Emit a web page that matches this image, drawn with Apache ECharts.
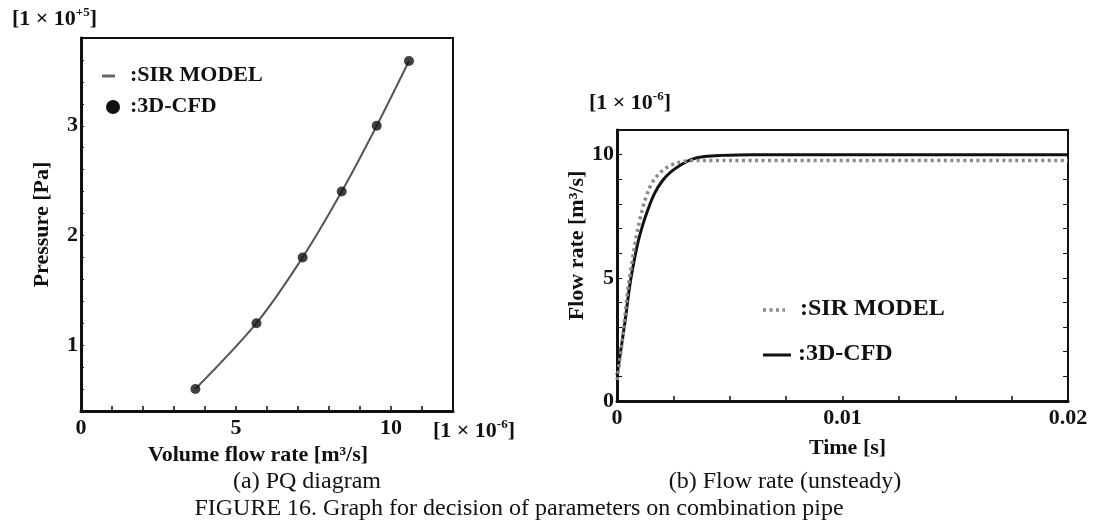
<!DOCTYPE html>
<html>
<head>
<meta charset="utf-8">
<script src="https://cdn.jsdelivr.net/npm/echarts@6/dist/echarts.min.js"></script>
<style>
html,body{margin:0;padding:0;background:#fff;}
#chart{width:1094px;height:522px;}
</style>
</head>
<body>
<div id="chart"></div>
<script>
// ---- (a) PQ diagram ----
const pqCfdFlow = [3.69, 5.66, 7.15, 8.41, 9.54, 10.58];      // x 1e-6 m3/s
const pqCfdPressure = [0.6, 1.2, 1.8, 2.4, 3.0, 3.59];        // x 1e5 Pa
const pqSirFlow = [3.69, 5.66, 7.15, 8.41, 9.54, 10.58];
const pqSirPressure = [0.6, 1.2, 1.8, 2.4, 3.0, 3.59];
const pqXTicks = [0, 5, 10];
const pqYTicks = [1, 2, 3];

// ---- (b) Flow rate (unsteady) ----
const cfdTime = [0, 0.000355, 0.000547, 0.000695, 0.000916, 0.00114, 0.00136, 0.00166, 0.00203, 0.00239, 0.00284, 0.00328, 0.00387, 0.00461, 0.006, 0.02];
const cfdFlow = [1.05, 3.22, 4.57, 5.38, 6.39, 7.14, 7.74, 8.42, 8.96, 9.30, 9.59, 9.80, 9.92, 9.97, 10.0, 10.0];
const sirTime = [0, 0.00025, 0.00047, 0.00062, 0.00084, 0.00106, 0.00129, 0.00158, 0.00195, 0.00239, 0.00299, 0.00358, 0.02];
const sirFlow = [0.85, 2.54, 4.43, 5.38, 6.59, 7.54, 8.28, 8.89, 9.30, 9.57, 9.73, 9.76, 9.76];
const tXTicks = ['0', '0.01', '0.02'];
const tYTicks = [0, 5, 10];

const F = "'Liberation Serif','Times New Roman',serif";
const zip = (a, b) => a.map((v, i) => [v, b[i]]);

const chart = echarts.init(document.getElementById('chart'), null, {renderer: 'canvas'});

const labelStyle = {fontFamily: F, fontWeight: 'bold', fontSize: 22, color: '#111'};
const nameStyle = {fontFamily: F, fontWeight: 'bold', fontSize: 22, color: '#111'};

function unitText(left, top, sup) {
  return {
    type: 'text', left: left, top: top,
    style: {
      text: '{a|[1 × 10}{s|' + sup + '}{a|]}',
      rich: {
        a: {fontFamily: F, fontWeight: 'bold', fontSize: 22, fill: '#111', lineHeight: 26},
        s: {fontFamily: F, fontWeight: 'bold', fontSize: 13, fill: '#111', verticalAlign: 'top', lineHeight: 26, padding: [0, 0, 10, 0]}
      }
    }
  };
}

const option = {
  backgroundColor: '#fff',
  animation: false,
  grid: [
    {left: 81, right: 641, top: 38, bottom: 111, show: true, borderColor: '#111', borderWidth: 2, containLabel: false},
    {left: 617, right: 26, top: 130, bottom: 121, show: true, borderColor: '#111', borderWidth: 2, containLabel: false}
  ],
  xAxis: [
    {
      gridIndex: 0, type: 'value', min: 0, max: 12, interval: 1,
      axisLine: {lineStyle: {color: '#111', width: 3}},
      axisTick: {inside: true, length: 5, lineStyle: {color: '#111', width: 1.5}},
      splitLine: {show: false},
      axisLabel: {margin: 6, ...labelStyle, formatter: v => pqXTicks.includes(v) ? String(v) : ''},
      name: 'Volume flow rate [m³/s]', nameLocation: 'middle', nameGap: 30,
      nameTextStyle: {...nameStyle, padding: [0, 18, 0, 0]}
    },
    {
      gridIndex: 1, type: 'value', min: 0, max: 0.02, interval: 0.0025,
      axisLine: {lineStyle: {color: '#111', width: 3}},
      axisTick: {inside: true, length: 5, lineStyle: {color: '#111', width: 1.5}},
      splitLine: {show: false},
      axisLabel: {margin: 6, ...labelStyle, formatter: v => {
        const s = String(Math.round(v * 10000) / 10000);
        return tXTicks.includes(s) ? s : '';
      }},
      name: 'Time [s]', nameLocation: 'middle', nameGap: 36,
      nameTextStyle: {...nameStyle, padding: [0, 0, 0, 10]}
    }
  ],
  yAxis: [
    {
      gridIndex: 0, type: 'value', min: 0.4, max: 3.8, interval: 0.2,
      axisLine: {lineStyle: {color: '#111', width: 3}},
      axisTick: {inside: true, length: 3, lineStyle: {color: '#111', width: 1}},
      splitLine: {show: false},
      axisLabel: {margin: 3, ...labelStyle, formatter: v => {
        const r = Math.round(v);
        return (Math.abs(v - r) < 1e-6 && pqYTicks.includes(r)) ? String(r) : '';
      }},
      name: 'Pressure [Pa]', nameLocation: 'middle', nameGap: 28, nameRotate: 90,
      nameTextStyle: nameStyle
    },
    {
      gridIndex: 1, type: 'value', min: 0, max: 11, interval: 1,
      axisLine: {lineStyle: {color: '#111', width: 3}},
      axisTick: {inside: true, length: 5, lineStyle: {color: '#111', width: 1}},
      splitLine: {show: false},
      axisLabel: {margin: 3, ...labelStyle, formatter: v => tYTicks.includes(v) ? String(v) : ''},
      name: 'Flow rate [m³/s]', nameLocation: 'middle', nameGap: 22, nameRotate: 90,
      nameTextStyle: {...nameStyle, padding: [0, 0, 0, 40]}
    },
    {
      gridIndex: 1, type: 'value', min: 0, max: 11, interval: 1, position: 'right',
      axisLine: {lineStyle: {color: '#111', width: 2}},
      axisTick: {inside: true, length: 5, lineStyle: {color: '#111', width: 1}},
      splitLine: {show: false},
      axisLabel: {show: false}
    }
  ],
  series: [
    {
      name: ':SIR MODEL', type: 'line', xAxisIndex: 0, yAxisIndex: 0,
      data: zip(pqSirFlow, pqSirPressure), smooth: 0.3, showSymbol: false,
      lineStyle: {color: '#555', width: 2}, z: 2
    },
    {
      name: ':3D-CFD', type: 'scatter', xAxisIndex: 0, yAxisIndex: 0,
      data: zip(pqCfdFlow, pqCfdPressure), symbol: 'circle', symbolSize: 10,
      itemStyle: {color: '#111'}, z: 3
    },
    {
      name: ':3D-CFD ', type: 'line', xAxisIndex: 1, yAxisIndex: 1,
      data: zip(cfdTime, cfdFlow), smooth: 0.35, showSymbol: false,
      lineStyle: {color: '#111', width: 3}, z: 2
    },
    {
      name: ':SIR MODEL ', type: 'line', xAxisIndex: 1, yAxisIndex: 1,
      data: zip(sirTime, sirFlow), smooth: 0.35, showSymbol: false,
      lineStyle: {color: '#888', width: 3.5, type: [3, 3.5]}, z: 3
    }
  ],
  graphic: [
    unitText(12, 6, '+5'),
    unitText(433, 418, '-6'),
    unitText(589, 90, '-6'),
    // legend (a)
    {type: 'line', shape: {x1: 102, y1: 76, x2: 115, y2: 76}, style: {stroke: '#666', lineWidth: 3}},
    {type: 'text', left: 130, top: 64, style: {text: ':SIR MODEL', fontFamily: F, fontWeight: 'bold', fontSize: 22, fill: '#111'}},
    {type: 'circle', shape: {cx: 113, cy: 107, r: 7}, style: {fill: '#111'}},
    {type: 'text', left: 130, top: 95, style: {text: ':3D-CFD', fontFamily: F, fontWeight: 'bold', fontSize: 22, fill: '#111'}},
    // legend (b)
    {type: 'line', shape: {x1: 763, y1: 310, x2: 785, y2: 310}, style: {stroke: '#888', lineWidth: 3.5, lineDash: [3, 3.5]}},
    {type: 'text', left: 800, top: 297, style: {text: ':SIR MODEL', fontFamily: F, fontWeight: 'bold', fontSize: 24, fill: '#111'}},
    {type: 'line', shape: {x1: 763, y1: 355, x2: 791, y2: 355}, style: {stroke: '#111', lineWidth: 3}},
    {type: 'text', left: 798, top: 342, style: {text: ':3D-CFD', fontFamily: F, fontWeight: 'bold', fontSize: 24, fill: '#111'}},
    // captions
    {type: 'text', x: 307, y: 482, style: {text: '(a) PQ diagram', fontFamily: F, fontSize: 24, fill: '#111', align: 'center', verticalAlign: 'middle'}},
    {type: 'text', x: 785, y: 482, style: {text: '(b) Flow rate (unsteady)', fontFamily: F, fontSize: 24, fill: '#111', align: 'center', verticalAlign: 'middle'}},
    {type: 'text', x: 519, y: 509, style: {text: 'FIGURE 16. Graph for decision of parameters on combination pipe', fontFamily: F, fontSize: 24, fill: '#111', align: 'center', verticalAlign: 'middle'}}
  ]
};

chart.setOption(option);
</script>
</body>
</html>
